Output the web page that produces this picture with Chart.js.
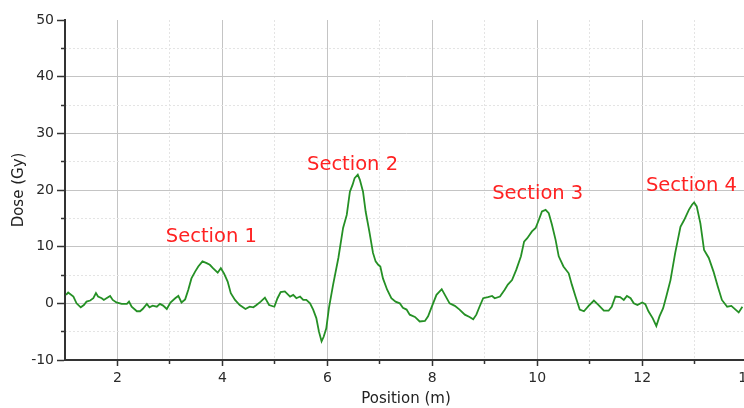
<!DOCTYPE html>
<html>
<head>
<meta charset="utf-8">
<script src="https://cdn.jsdelivr.net/npm/chart.js@4"></script>
<style>
  html, body { margin: 0; padding: 0; background: #fff; overflow: hidden; }
</style>
</head>
<body>
<canvas id="doseChart" width="760" height="408"></canvas>
<script>
// measured dose profile, position in m, dose in Gy
const positions = [
  1.02, 1.06, 1.16, 1.22, 1.30, 1.36, 1.41, 1.48, 1.54, 1.59, 1.63, 1.70, 1.74, 1.79, 1.86, 1.91, 1.98,
  2.08, 2.18, 2.22, 2.27, 2.37, 2.43, 2.48, 2.56, 2.61, 2.67, 2.75, 2.81, 2.87, 2.94,
  3.01, 3.10, 3.16, 3.22, 3.29, 3.35, 3.41, 3.48, 3.54, 3.62, 3.70, 3.76, 3.82, 3.91, 3.97,
  4.03, 4.10, 4.16, 4.24, 4.33, 4.44, 4.52, 4.59, 4.65, 4.73, 4.81, 4.89, 4.99,
  5.05, 5.11, 5.19, 5.29, 5.35, 5.41, 5.48, 5.54, 5.60, 5.67, 5.73, 5.79, 5.84, 5.89, 5.93, 5.98,
  6.03, 6.11, 6.21, 6.30, 6.37, 6.43, 6.48, 6.52, 6.58, 6.62, 6.68, 6.73, 6.80, 6.87, 6.92, 6.97,
  7.01, 7.06, 7.14, 7.22, 7.30, 7.38, 7.44, 7.51, 7.57, 7.67, 7.76, 7.86, 7.92, 7.98,
  8.08, 8.18, 8.24, 8.33, 8.43, 8.52, 8.62, 8.71, 8.78, 8.84, 8.90, 8.97,
  9.06, 9.14, 9.19, 9.29, 9.38, 9.44, 9.52, 9.60, 9.69, 9.75, 9.81, 9.90, 9.97,
  10.03, 10.09, 10.16, 10.22, 10.28, 10.35, 10.41, 10.50, 10.60, 10.66, 10.73, 10.81, 10.89, 10.98,
  11.08, 11.17, 11.27, 11.36, 11.42, 11.49, 11.58, 11.65, 11.71, 11.78, 11.84, 11.91,
  12.00, 12.06, 12.12, 12.20, 12.27, 12.33, 12.40, 12.46, 12.54, 12.63, 12.73, 12.80, 12.89, 12.95, 12.99,
  13.04, 13.11, 13.18, 13.27, 13.36, 13.44, 13.52, 13.62, 13.70, 13.78, 13.84, 13.91
];
const doses = [
  1.5, 1.9, 1.2, 0, -0.7, -0.3, 0.3, 0.5, 0.9, 1.8, 1.2, 0.9, 0.6, 0.9, 1.3, 0.6, 0.15,
  -0.1, -0.1, 0.3, -0.6, -1.4, -1.4, -1.0, -0.1, -0.7, -0.4, -0.6, -0.1, -0.4, -1.0,
  0.15, 0.9, 1.3, 0.15, 0.7, 2.4, 4.4, 5.6, 6.5, 7.4, 7.1, 6.8, 6.2, 5.4, 6.2,
  5.3, 3.85, 1.8, 0.6, -0.3, -1.0, -0.6, -0.7, -0.3, 0.3, 1.0, -0.3, -0.6,
  0.9, 2.0, 2.1, 1.2, 1.5, 0.9, 1.2, 0.6, 0.6, 0, -1.1, -2.6, -5.0, -6.7, -5.9, -4.4,
  -0.85, 3.3, 8.0, 13.3, 15.6, 19.7, 20.9, 22.1, 22.7, 21.8, 19.7, 16.2, 12.7, 8.9, 7.4, 6.8,
  6.5, 4.4, 2.4, 0.9, 0.3, 0, -0.8, -1.1, -2.0, -2.4, -3.2, -3.1, -2.3, -0.85,
  1.5, 2.5, 1.5, 0, -0.45, -1.1, -2.0, -2.4, -2.8, -2.0, -0.6, 0.9,
  1.1, 1.3, 0.9, 1.2, 2.4, 3.3, 4.1, 5.9, 8.3, 10.9, 11.5, 12.7, 13.3,
  14.7, 16.2, 16.5, 15.9, 13.9, 11.2, 8.3, 6.5, 5.3, 3.3, 1.2, -1.1, -1.4, -0.45,
  0.5, -0.3, -1.3, -1.3, -0.6, 1.2, 1.1, 0.6, 1.3, 0.9, 0, -0.3,
  0.15, -0.15, -1.4, -2.6, -4.0, -2.3, -0.85, 1.2, 4.1, 8.9, 13.5, 14.7, 16.5, 17.4, 17.8,
  17.1, 14.1, 9.4, 8.0, 5.6, 3.0, 0.6, -0.6, -0.45, -1.1, -1.6, -0.6
];

const majorX = [2, 4, 6, 8, 10, 12, 14];
const minorX = [3, 5, 7, 9, 11, 13];
const majorY = [-10, 0, 10, 20, 30, 40, 50];
const minorY = [-5, 5, 15, 25, 35, 45];

const sectionNames = ['Section 1', 'Section 2', 'Section 3', 'Section 4'];
const sectionX = [3.79, 6.48, 10.01, 12.94];
const sectionY = [11.8, 24.5, 19.3, 20.7];

const tickFont = { family: 'DejaVu Sans', size: 14 };
const titleFont = { family: 'DejaVu Sans', size: 15 };

// red section captions, placed in data units
const sectionLabels = {
  id: 'sectionLabels',
  afterDatasetsDraw(chart) {
    const { ctx, scales } = chart;
    ctx.save();
    ctx.font = '19.5px "DejaVu Sans"';
    ctx.fillStyle = '#ff2222';
    ctx.textAlign = 'center';
    ctx.textBaseline = 'middle';
    sectionNames.forEach((name, i) => {
      ctx.fillText(name, scales.x.getPixelForValue(sectionX[i]), scales.y.getPixelForValue(sectionY[i]));
    });
    ctx.restore();
  }
};

const ctx = document.getElementById('doseChart').getContext('2d');
new Chart(ctx, {
  type: 'line',
  data: {
    datasets: [{
      label: 'Dose',
      data: positions.map((p, i) => ({ x: p, y: doses[i] })),
      borderColor: '#259025',
      borderWidth: 1.8,
      pointRadius: 0,
      tension: 0,
      fill: false
    }]
  },
  options: {
    responsive: false,
    animation: false,
    layout: { padding: { top: 20, right: 12, bottom: 0, left: 0 } },
    plugins: { legend: { display: false }, tooltip: { enabled: false } },
    scales: {
      x: {
        type: 'linear', position: 'bottom', min: 1, max: 14, weight: 1,
        afterBuildTicks: s => { s.ticks = majorX.map(v => ({ value: v })); },
        afterFit: s => { s.height = 48; },
        grid: { color: '#c4c4c4', tickLength: 6, tickColor: '#333', tickWidth: 1.5 },
        border: { color: '#333', width: 2 },
        ticks: { font: tickFont, color: '#2a2a2a', padding: 4, maxRotation: 0, autoSkip: false },
        title: { display: true, text: 'Position (m)', font: titleFont, color: '#222', padding: 0 }
      },
      xMinor: {
        type: 'linear', position: 'bottom', min: 1, max: 14, weight: 0,
        afterBuildTicks: s => { s.ticks = minorX.map(v => ({ value: v })); },
        afterFit: s => { s.height = 0; },
        grid: { color: '#e4e4e4', tickLength: 4, tickColor: '#333', tickWidth: 1.5 },
        border: { display: false, dash: [2, 2] },
        ticks: { display: false }
      },
      y: {
        type: 'linear', position: 'left', min: -10, max: 50, weight: 1,
        afterBuildTicks: s => { s.ticks = majorY.map(v => ({ value: v })); },
        afterFit: s => { s.width = 65; },
        grid: {
          color: c => (c.tick && c.tick.value === 50) ? 'rgba(0,0,0,0)' : '#c4c4c4',
          tickLength: 8, tickColor: '#333', tickWidth: 1.5
        },
        border: { color: '#333', width: 2 },
        ticks: { font: tickFont, color: '#2a2a2a', padding: 3 },
        title: { display: true, text: 'Dose (Gy)', font: titleFont, color: '#222', padding: { top: 10, bottom: 0 } }
      },
      yMinor: {
        type: 'linear', position: 'left', min: -10, max: 50, weight: 0,
        afterBuildTicks: s => { s.ticks = minorY.map(v => ({ value: v })); },
        afterFit: s => { s.width = 0; },
        grid: { color: '#e4e4e4', tickLength: 4, tickColor: '#333', tickWidth: 1.5 },
        border: { display: false, dash: [2, 2] },
        ticks: { display: false }
      }
    }
  },
  plugins: [sectionLabels]
});
</script>
</body>
</html>
